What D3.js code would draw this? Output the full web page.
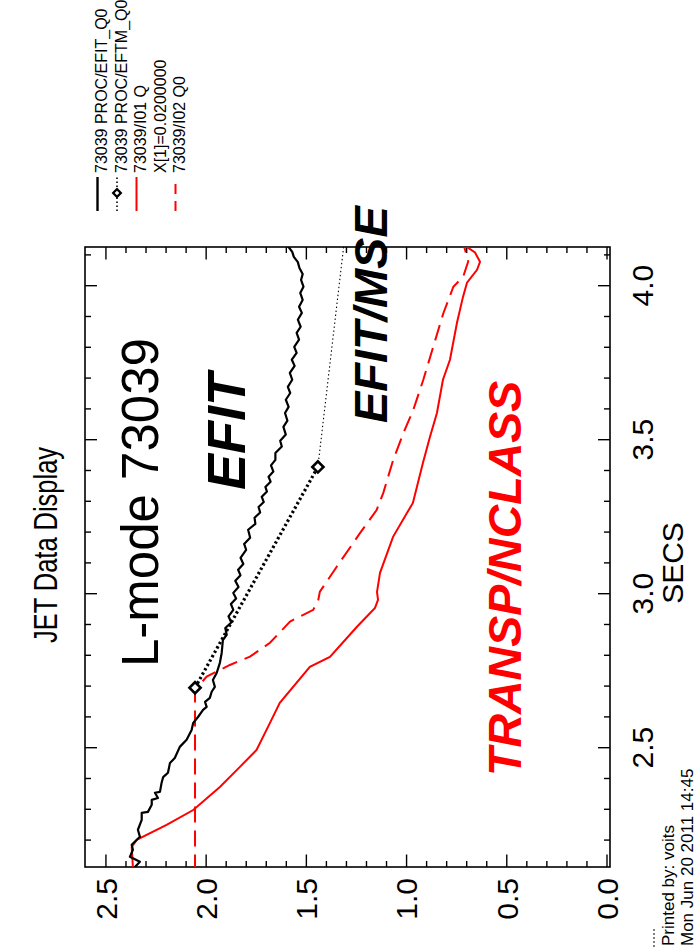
<!DOCTYPE html>
<html>
<head>
<meta charset="utf-8">
<script src="https://cdn.jsdelivr.net/npm/d3@7"></script>
<style>
  html, body { margin: 0; padding: 0; background: #fff; }
  svg { display: block; font-family: "Liberation Sans", Arial, Helvetica, sans-serif; }
</style>
</head>
<body>
<svg id="chart" width="698" height="951"></svg>
<script>
// ---- JET pulse 73039: safety factor on axis (q0) versus time ----

// PROC/EFIT_Q0
const efitTime = [2.100, 2.111, 2.128, 2.144, 2.167, 2.183, 2.209, 2.232, 2.264, 2.287, 2.290, 2.313, 2.329, 2.335,
  2.352, 2.355, 2.384, 2.403, 2.417, 2.449, 2.465, 2.501, 2.524, 2.556, 2.579, 2.598, 2.621, 2.631,
  2.647, 2.660, 2.680, 2.696, 2.718, 2.741, 2.774, 2.806, 2.848, 2.865, 2.887, 2.905, 2.925, 2.946,
  2.965, 2.983, 3.001, 3.020, 3.040, 3.058, 3.076, 3.095, 3.115, 3.141, 3.160, 3.180, 3.206, 3.225,
  3.245, 3.262, 3.280, 3.296, 3.313, 3.330, 3.345, 3.362, 3.378, 3.395, 3.415, 3.433, 3.455, 3.476,
  3.495, 3.515, 3.540, 3.560, 3.585, 3.605, 3.628, 3.650, 3.670, 3.693, 3.715, 3.738, 3.758, 3.780,
  3.800, 3.823, 3.845, 3.865, 3.888, 3.910, 3.930, 3.952, 3.975, 3.995, 4.017, 4.036, 4.056, 4.075,
  4.092, 4.108, 4.124, 4.135];
const efitQ0 = [2.350, 2.353, 2.328, 2.378, 2.363, 2.369, 2.328, 2.338, 2.319, 2.319, 2.288, 2.269, 2.269, 2.238,
  2.253, 2.228, 2.220, 2.212, 2.188, 2.178, 2.154, 2.129, 2.095, 2.070, 2.062, 2.038, 2.013, 1.995,
  2.003, 1.979, 1.970, 1.954, 1.964, 1.945, 1.929, 1.920, 1.914, 1.895, 1.902, 1.872, 1.886, 1.862,
  1.874, 1.848, 1.862, 1.836, 1.852, 1.826, 1.838, 1.812, 1.826, 1.798, 1.808, 1.778, 1.788, 1.752,
  1.756, 1.728, 1.736, 1.710, 1.720, 1.694, 1.702, 1.676, 1.686, 1.662, 1.674, 1.652, 1.652, 1.620,
  1.628, 1.600, 1.612, 1.592, 1.604, 1.586, 1.600, 1.578, 1.590, 1.568, 1.580, 1.556, 1.570, 1.546,
  1.558, 1.534, 1.546, 1.526, 1.540, 1.520, 1.534, 1.516, 1.528, 1.512, 1.524, 1.516, 1.532, 1.540,
  1.560, 1.568, 1.586, 1.600];

// PROC/EFTM_Q0 (EFIT with MSE constraint)
const eftmTime = [2.693, 3.410, 4.300];
const eftmQ0 = [2.053, 1.440, 1.280];

// TRANSP 73039/I01 Q at X[1]=0.02
const i01Time = [2.100, 2.111, 2.176, 2.199, 2.248, 2.296, 2.371, 2.436, 2.491, 2.579, 2.644, 2.761, 2.793,
  2.891, 2.952, 2.978, 3.004, 3.066, 3.183, 3.261, 3.293, 3.358, 3.423, 3.507, 3.585, 3.693, 3.758,
  3.878, 3.962, 4.008, 4.050, 4.076, 4.106, 4.130];
const i01Q = [2.362, 2.363, 2.369, 2.344, 2.195, 2.062, 1.929, 1.829, 1.746, 1.679, 1.630, 1.480, 1.380,
  1.245, 1.155, 1.140, 1.145, 1.130, 1.065, 0.995, 0.966, 0.941, 0.916, 0.881, 0.846, 0.816, 0.781,
  0.746, 0.716, 0.696, 0.646, 0.631, 0.656, 0.710];

// TRANSP 73039/I02 Q0
const i02Time = [2.100, 2.686, 2.729, 2.767, 2.794, 2.839, 2.908, 2.946, 2.978, 3.005, 3.086, 3.195, 3.270,
  3.325, 3.433, 3.519, 3.595, 3.693, 3.801, 3.909, 3.995, 4.028, 4.077, 4.130];
const i02Q0 = [2.053, 2.053, 1.995, 1.879, 1.779, 1.679, 1.579, 1.463, 1.438, 1.430, 1.346, 1.230, 1.147,
  1.114, 1.064, 1.014, 0.964, 0.914, 0.864, 0.814, 0.764, 0.715, 0.690, 0.712];

// axis ticks
const timeTicks = [2.5, 3.0, 3.5, 4.0];
const timeMinorTicks = [2.2, 2.3, 2.4, 2.6, 2.7, 2.8, 2.9, 3.1, 3.2, 3.3, 3.4, 3.6, 3.7, 3.8, 3.9, 4.1];
const qTicks = [0.0, 0.5, 1.0, 1.5, 2.0, 2.5];
const qMinorTicks = [0.1, 0.2, 0.3, 0.4, 0.6, 0.7, 0.8, 0.9, 1.1, 1.2, 1.3, 1.4, 1.6, 1.7, 1.8, 1.9,
  2.1, 2.2, 2.3, 2.4];

// legend and annotation texts
const legendLabels = ["73039 PROC/EFIT_Q0", "73039 PROC/EFTM_Q0", "73039/I01 Q", "X[1]=0.0200000", "73039/I02 Q0"];
const titleText = "JET Data Display";
const timeAxisTitle = "SECS";
const printLines = ["Printed by: voits", "Mon Jun 20 2011 14:45"];

// ---- drawing ----
const svg = d3.select("#chart");
const FONT = '"Liberation Sans", Arial, Helvetica, sans-serif';
const RED = "#ff0000";

// page is printed in landscape and turned: time runs upward, q runs leftward
const frame = { left: 85, right: 610, top: 247, bottom: 867 };
const tScale = d3.scaleLinear().domain([2.111, 4.124]).range([frame.bottom, frame.top]);
const qScale = d3.scaleLinear().domain([-0.0175, 2.602]).range([frame.right, frame.left]);

const pts = (ts, vs) => ts.map((tv, i) => [tv, vs[i]]);
const line = d3.line().x(d => qScale(d[1])).y(d => tScale(d[0]));

svg.append("defs").append("clipPath").attr("id", "plotClip")
  .append("rect")
  .attr("x", frame.left).attr("y", frame.top)
  .attr("width", frame.right - frame.left).attr("height", frame.bottom - frame.top);

// axes: major ticks with labels where needed, minor ticks without
function styleAxis(g) {
  g.select(".domain").remove();
  g.selectAll(".tick line").attr("stroke", "#000").attr("stroke-width", 1.4);
  g.attr("font-family", FONT).attr("font-size", 30);
  g.selectAll(".tick text").attr("fill", "#000");
}

// bottom (q, labelled)
svg.append("g").attr("transform", `translate(0,${frame.bottom})`)
  .call(d3.axisBottom(qScale).tickValues(qTicks).tickSize(-12.5).tickFormat(d3.format(".1f")))
  .call(styleAxis)
  .call(g => g.selectAll(".tick text")
    .attr("transform", "rotate(-90)")
    .attr("x", -11).attr("y", 0).attr("dy", "0.36em")
    .attr("text-anchor", "end"));
svg.append("g").attr("transform", `translate(0,${frame.bottom})`)
  .call(d3.axisBottom(qScale).tickValues(qMinorTicks).tickSize(-6).tickFormat(""))
  .call(styleAxis);

// top (q, unlabelled)
svg.append("g").attr("transform", `translate(0,${frame.top})`)
  .call(d3.axisTop(qScale).tickValues(qTicks).tickSize(-12.5).tickFormat(""))
  .call(styleAxis);
svg.append("g").attr("transform", `translate(0,${frame.top})`)
  .call(d3.axisTop(qScale).tickValues(qMinorTicks).tickSize(-6).tickFormat(""))
  .call(styleAxis);

// right (time, labelled)
svg.append("g").attr("transform", `translate(${frame.right},0)`)
  .call(d3.axisRight(tScale).tickValues(timeTicks).tickSize(-12).tickFormat(d3.format(".1f")))
  .call(styleAxis)
  .call(g => g.selectAll(".tick text")
    .attr("transform", "rotate(-90)")
    .attr("x", 0).attr("y", 43).attr("dy", 0)
    .attr("text-anchor", "middle"));
svg.append("g").attr("transform", `translate(${frame.right},0)`)
  .call(d3.axisRight(tScale).tickValues(timeMinorTicks).tickSize(-6).tickFormat(""))
  .call(styleAxis);

// left (time, unlabelled)
svg.append("g").attr("transform", `translate(${frame.left},0)`)
  .call(d3.axisLeft(tScale).tickValues(timeTicks).tickSize(-12).tickFormat(""))
  .call(styleAxis);
svg.append("g").attr("transform", `translate(${frame.left},0)`)
  .call(d3.axisLeft(tScale).tickValues(timeMinorTicks).tickSize(-6).tickFormat(""))
  .call(styleAxis);

// frame
svg.append("rect")
  .attr("x", frame.left).attr("y", frame.top)
  .attr("width", frame.right - frame.left).attr("height", frame.bottom - frame.top)
  .attr("fill", "none").attr("stroke", "#000").attr("stroke-width", 1.6);

// data
const plot = svg.append("g").attr("clip-path", "url(#plotClip)");

plot.append("path").datum(pts(i01Time, i01Q))
  .attr("d", line).attr("fill", "none").attr("stroke", RED).attr("stroke-width", 2);

plot.append("path").datum(pts(i02Time, i02Q0))
  .attr("d", line).attr("fill", "none").attr("stroke", RED).attr("stroke-width", 2)
  .attr("stroke-dasharray", "16,8");

plot.append("path").datum(pts(efitTime, efitQ0))
  .attr("d", line).attr("fill", "none").attr("stroke", "#000").attr("stroke-width", 2.2)
  .attr("stroke-linejoin", "round");

// EFTM: bold dotted between the first two fits, fine dotted afterwards
const eftm = pts(eftmTime, eftmQ0);
plot.append("path").datum(eftm.slice(0, 2))
  .attr("d", line).attr("fill", "none").attr("stroke", "#000").attr("stroke-width", 3.2)
  .attr("stroke-dasharray", "2.4,2.6");
plot.append("path").datum(eftm.slice(1))
  .attr("d", line).attr("fill", "none").attr("stroke", "#000").attr("stroke-width", 1.1)
  .attr("stroke-dasharray", "1.4,2.6");
plot.selectAll("path.eftm-marker").data(eftm).enter().append("path")
  .attr("class", "eftm-marker")
  .attr("d", d3.symbol(d3.symbolSquare, 62))
  .attr("transform", d => `translate(${qScale(d[1])},${tScale(d[0])}) rotate(45)`)
  .attr("fill", "#fff").attr("stroke", "#000").attr("stroke-width", 2.6);

// rotated text helper: (bx = baseline x, sy = starting y), reading upward
function vtext(parent, str, bx, sy, opts) {
  const o = Object.assign({ size: 16, weight: "normal", style: "normal", fill: "#000", anchor: "start" }, opts);
  const el = parent.append("text")
    .attr("transform", `translate(${bx},${sy}) rotate(-90)`)
    .attr("text-anchor", o.anchor)
    .attr("font-family", o.family || FONT)
    .attr("font-size", o.size)
    .attr("font-weight", o.weight)
    .attr("font-style", o.style)
    .attr("fill", o.fill)
    .text(str);
  if (o.length) el.attr("textLength", o.length).attr("lengthAdjust", "spacingAndGlyphs");
  return el;
}

// annotations inside the plot
vtext(svg, "L-mode 73039", 158, 667, { size: 51 });
vtext(svg, "EFIT", 245, 490, { size: 54, weight: "bold", style: "italic" });
vtext(svg, "EFIT/MSE", 387, 423, { size: 47, weight: "bold", style: "italic" });
vtext(svg, "TRANSP/NCLASS", 521, 776, { size: 46.5, weight: "bold", style: "italic", fill: RED });

// titles
vtext(svg, titleText, 57, 545, {
  size: 33, anchor: "middle", length: 196,
  family: '"Liberation Sans Narrow", "Liberation Sans", Arial, sans-serif'
});
vtext(svg, timeAxisTitle, 683, 563, { size: 30, anchor: "middle" });

// legend (columns in the upper corner)
const legendStyles = [
  { stroke: "#000", width: 2.4, dash: null, marker: false },
  { stroke: "#000", width: 1.6, dash: "1.5,2.5", marker: true },
  { stroke: RED, width: 2, dash: null, marker: false },
  null,
  { stroke: RED, width: 2, dash: "10,7", marker: false }
];
const legend = svg.append("g");
legendLabels.forEach((lab, i) => {
  const bx = 107 + i * 19.5;
  const lx = bx - 9.5;
  const st = legendStyles[i];
  if (st) {
    const seg = legend.append("line")
      .attr("x1", lx).attr("x2", lx).attr("y1", 211).attr("y2", 177)
      .attr("stroke", st.stroke).attr("stroke-width", st.width);
    if (st.dash) seg.attr("stroke-dasharray", st.dash);
    if (st.marker) {
      legend.append("path")
        .attr("d", d3.symbol(d3.symbolSquare, 30))
        .attr("transform", `translate(${lx},193) rotate(45)`)
        .attr("fill", "#fff").attr("stroke", "#000").attr("stroke-width", 2.2);
    }
  }
  vtext(legend, lab, bx, 173, { size: 16 });
});

// print stamp
svg.append("line")
  .attr("x1", 654).attr("x2", 654).attr("y1", 947).attr("y2", 927)
  .attr("stroke", "#000").attr("stroke-width", 1).attr("stroke-dasharray", "2,2");
printLines.forEach((s, i) => vtext(svg, s, 674 + i * 19, 946, { size: 17 }));
</script>
</body>
</html>
